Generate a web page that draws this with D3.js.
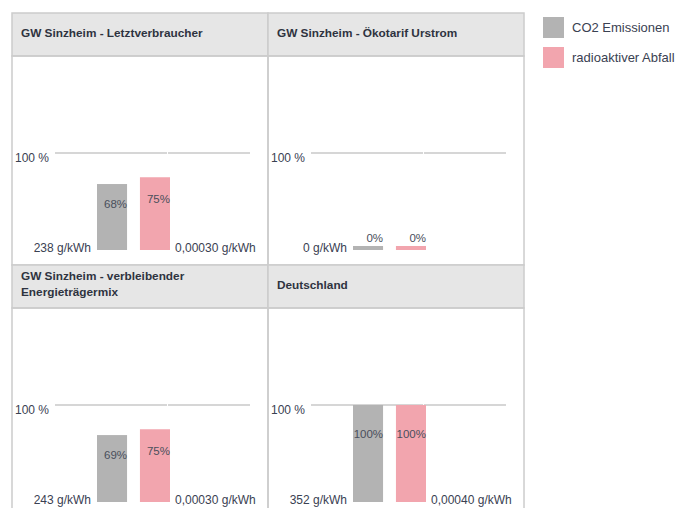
<!DOCTYPE html>
<html>
<head>
<meta charset="utf-8">
<title>Stromkennzeichnung</title>
<script src="https://cdnjs.cloudflare.com/ajax/libs/d3/7.8.5/d3.min.js"></script>
<style>
  body { margin: 0; background: #fff; }
  text { font-family: "Liberation Sans", Arial, sans-serif; }
</style>
</head>
<body>
<script>
// data
let panelTitles = [
  ["GW Sinzheim - Letztverbraucher"],
  ["GW Sinzheim - Ökotarif Urstrom"],
  ["GW Sinzheim - verbleibender", "Energieträgermix"],
  ["Deutschland"]
];
let seriesNames = ["CO2 Emissionen", "radioaktiver Abfall"];
let co2Pct = [68, 0, 69, 100];
let wastePct = [75, 0, 75, 100];
let co2Labels = ["238 g/kWh", "0 g/kWh", "243 g/kWh", "352 g/kWh"];
let wasteLabels = ["0,00030 g/kWh", "", "0,00030 g/kWh", "0,00040 g/kWh"];
let yTicks = [100];

let width = 678, height = 508;
let colors = ["#b3b3b3", "#f2a5ae"];
let border = "#cccccc";
let textColor = "#3a4152";

let gridLeft = 12, gridTop = 13,
    colW = 256, rowH = 252, headerH = 43;

let svg = d3.select('body')
  .append('svg')
  .attr('width', width)
  .attr('height', height);

// legend
let legend = svg.selectAll('.legend')
  .data(seriesNames)
  .enter()
  .append('g')
  .attr('transform', (d, i) => `translate(543,${17 + i * 30})`);

legend.append('rect')
  .attr('width', 21)
  .attr('height', 21)
  .attr('fill', (d, i) => colors[i]);

legend.append('text')
  .attr('x', 29)
  .attr('y', 15)
  .attr('font-size', 13)
  .attr('fill', textColor)
  .text(d => d);

// y scale is the same shape for every panel, shifted per row
let yScale = d3.scaleLinear()
  .domain([0, 100])
  .range([194, 97]);

let xScale = d3.scaleBand()
  .domain(seriesNames)
  .range([85, 158])
  .paddingInner(0.3);

panelTitles.forEach((title, p) => {
  let col = p % 2, row = Math.floor(p / 2);
  let g = svg.append('g')
    .attr('transform', `translate(${gridLeft + col * colW},${gridTop + row * rowH})`);

  // header
  g.append('rect')
    .attr('width', colW)
    .attr('height', headerH)
    .attr('fill', '#e6e6e6')
    .attr('stroke', border)
    .attr('stroke-width', 1.5);

  // body
  g.append('rect')
    .attr('y', headerH)
    .attr('width', colW)
    .attr('height', rowH - headerH)
    .attr('fill', 'none')
    .attr('stroke', border)
    .attr('stroke-width', 1.5);

  g.selectAll('.title')
    .data(title)
    .enter()
    .append('text')
    .attr('x', 9)
    .attr('y', (d, i) => title.length > 1 ? 15 + i * 16 : 24)
    .attr('font-size', 11.8)
    .attr('font-weight', 'bold')
    .attr('fill', '#2e3340')
    .text(d => d);

  let body = g.append('g').attr('transform', `translate(0,${headerH})`);

  // 100 % line, two segments
  yTicks.forEach(t => {
    [[43, 155], [156, 238]].forEach(seg => {
      body.append('line')
        .attr('x1', seg[0]).attr('x2', seg[1])
        .attr('y1', yScale(t)).attr('y2', yScale(t))
        .attr('stroke', '#c8c8c8')
        .attr('stroke-width', 1.5);
    });
    body.append('text')
      .attr('x', 3)
      .attr('y', yScale(t) + 9)
      .attr('font-size', 12)
      .attr('fill', textColor)
      .text(t + ' %');
  });

  let vals = [co2Pct[p], wastePct[p]];
  let bars = body.selectAll('.bar')
    .data(vals)
    .enter()
    .append('g');

  bars.append('rect')
    .attr('x', (d, i) => xScale(seriesNames[i]))
    .attr('y', d => Math.min(yScale(d), yScale(0) - 4))
    .attr('width', xScale.bandwidth())
    .attr('height', d => Math.max(yScale(0) - yScale(d), 4))
    .attr('fill', (d, i) => colors[i]);

  bars.append('text')
    .attr('x', (d, i) => xScale(seriesNames[i]) + xScale.bandwidth())
    .attr('y', d => {
      let h = yScale(0) - yScale(d);
      return h < 20 ? yScale(0) - 8 : yScale(0) - h * 0.7 + 4;
    })
    .attr('text-anchor', 'end')
    .attr('font-size', 11.5)
    .attr('fill', '#4a4f5c')
    .text(d => d + '%');

  body.append('text')
    .attr('x', xScale(seriesNames[0]) - 6)
    .attr('y', yScale(0) + 2)
    .attr('text-anchor', 'end')
    .attr('font-size', 12)
    .attr('fill', textColor)
    .text(co2Labels[p]);

  body.append('text')
    .attr('x', xScale(seriesNames[1]) + xScale.bandwidth() + 5)
    .attr('y', yScale(0) + 2)
    .attr('font-size', 12)
    .attr('fill', textColor)
    .text(wasteLabels[p]);
});
</script>
</body>
</html>
